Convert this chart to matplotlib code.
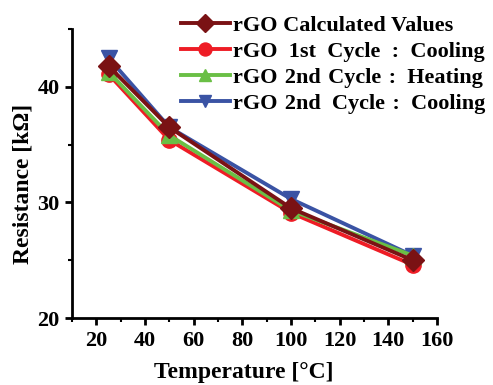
import numpy as np
import matplotlib
matplotlib.use('Agg')
import matplotlib.pyplot as plt
from matplotlib.ticker import MultipleLocator

plt.rcParams['font.family'] = ['Liberation Serif', 'DejaVu Serif']
plt.rcParams['font.weight'] = 'bold'

temp = [25, 50, 100, 150]
calc_vals = [41.8, 36.5, 29.5, 25.0]
cyc1_cool = [41.1, 35.4, 29.1, 24.6]
cyc2_heat = [41.3, 35.8, 29.3, 25.4]
cyc2_cool = [42.5, 36.5, 30.3, 25.4]

labels = ['rGO Calculated Values',
          'rGO  1st  Cycle  :  Cooling',
          'rGO\u20042nd\u2004Cycle\u2004:\u2002Heating',
          'rGO\u20042nd\u2002Cycle\u2004:\u2002Cooling']

fig = plt.figure(figsize=(4.93, 3.85), dpi=100)
ax = fig.add_axes([72/493, 67/385, 365/493, 289/385])

lw = 2.8
ms = 11
l_calc, = ax.plot(temp, calc_vals, color='#7a1214', marker='D', lw=lw, ms=ms, zorder=5)
l_c1, = ax.plot(temp, cyc1_cool, color='#ee1c25', marker='o', lw=lw, ms=ms, zorder=2)
l_h2, = ax.plot(temp, cyc2_heat, color='#6abf45', marker='^', lw=lw, ms=ms, zorder=3)
l_c2, = ax.plot(temp, cyc2_cool, color='#3a53a4', marker='v', lw=lw, ms=ms, zorder=1)

ax.set_xlim(10, 160)
ax.set_ylim(20, 45)
ax.xaxis.set_major_locator(MultipleLocator(20))
ax.xaxis.set_minor_locator(MultipleLocator(10))
ax.yaxis.set_major_locator(MultipleLocator(10))
ax.yaxis.set_minor_locator(MultipleLocator(5))

for s in ['top', 'right']:
    ax.spines[s].set_visible(False)
for s in ['left', 'bottom']:
    ax.spines[s].set_linewidth(2)
ax.tick_params(which='major', length=5, width=2, labelsize=16, pad=4)
ax.tick_params(which='minor', length=3, width=1.5)

ax.set_xlabel('Temperature [\u00b0C]', fontsize=17, fontweight='bold')
ax.set_ylabel('Resistance [k\u03a9]', fontsize=17, fontweight='bold')
ax.xaxis.set_label_coords(0.47, -0.152)
ax.yaxis.set_label_coords(-0.105, 0.464)

leg = fig.legend(handles=[l_calc, l_c1, l_h2, l_c2], labels=labels, loc='upper left',
                 bbox_to_anchor=(181/493, 1 - 15/385), frameon=False, fontsize=16,
                 handlelength=2.2, handletextpad=0.15, labelspacing=0.25,
                 borderpad=0, borderaxespad=0, markerscale=0.85)

fig.savefig('out.png', dpi=100)
